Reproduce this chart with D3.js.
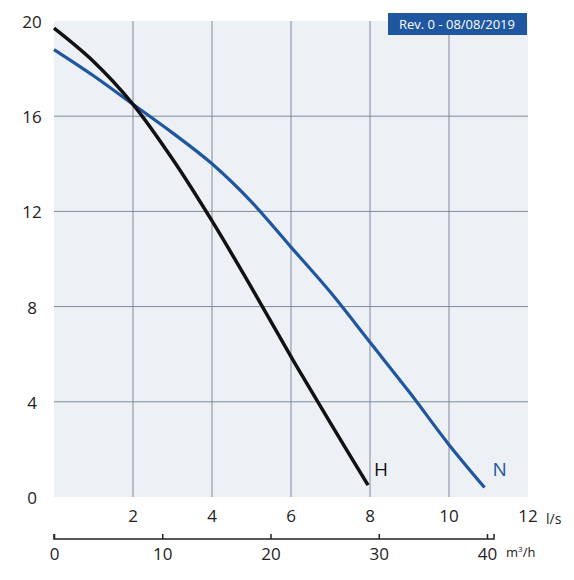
<!DOCTYPE html>
<html><head><meta charset="utf-8">
<script src="https://cdn.jsdelivr.net/npm/d3@7"></script>
<style>body{margin:0;background:#fff}text{font-family:"Open Sans",sans-serif}</style>
</head><body><div id="viz"></div>
<script>
const xTicks = [2, 4, 6, 8, 10, 12];
const yTicks = [0, 4, 8, 12, 16, 20];
const m3Ticks = [0, 10, 20, 30, 40];
const hFlow = [0, 1, 2, 3, 4, 5, 6, 7, 7.95];
const hHead = [19.7, 18.3, 16.5, 14.2, 11.6, 8.8, 5.9, 3.1, 0.5];
const nFlow = [0, 1, 2, 3, 4, 5, 6, 7, 8, 9, 10, 10.9];
const nHead = [18.8, 17.7, 16.5, 15.3, 14.0, 12.4, 10.5, 8.6, 6.5, 4.4, 2.2, 0.4];

const svg = d3.select('#viz').append('svg').attr('width', 574).attr('height', 580);
const x = d3.scaleLinear().domain([0, 12]).range([54, 528]);
const y = d3.scaleLinear().domain([0, 20]).range([497, 21]);
const xm = d3.scaleLinear().domain([0, 40]).range([54, 487]);

svg.append('rect').attr('x', x(0)).attr('y', y(20)).attr('width', x(12) - x(0)).attr('height', y(0) - y(20)).attr('fill', '#edf1f6');

svg.selectAll('.vg').data(xTicks.slice(0, -1)).join('line')
    .attr('x1', d => x(d)).attr('x2', d => x(d)).attr('y1', y(20)).attr('y2', y(0))
    .attr('stroke', '#7c8a9c').attr('stroke-width', 1);
svg.selectAll('.hg').data(yTicks.slice(1, -1)).join('line')
    .attr('x1', x(0)).attr('x2', x(12)).attr('y1', d => y(d)).attr('y2', d => y(d))
    .attr('stroke', '#7c8a9c').attr('stroke-width', 1);

svg.selectAll('.yl').data(yTicks).join('text')
    .attr('x', 32).attr('y', d => y(d) + 7).attr('text-anchor', 'middle')
    .attr('font-size', 17).attr('fill', '#222').text(d => d);
svg.selectAll('.xl').data(xTicks).join('text')
    .attr('x', d => x(d)).attr('y', 522).attr('text-anchor', 'middle')
    .attr('font-size', 17).attr('fill', '#222').text(d => d);
svg.append('text').attr('x', 546).attr('y', 524).attr('font-size', 14).attr('fill', '#222').text('l/s');

const m3 = svg.append('g').attr('transform', 'translate(0,539)');
m3.call(d3.axisBottom(xm).tickValues(m3Ticks).tickSize(-5).tickPadding(6));
m3.select('.domain').attr('stroke', '#222').attr('stroke-width', 1.5).attr('d', `M${xm(0)},-5V0H${494}V-5`);
m3.selectAll('.tick line').attr('stroke', '#222').attr('stroke-width', 1.5);
m3.selectAll('.tick text').attr('font-size', 17).attr('fill', '#222').attr('dy', '0.9em').attr('font-family', '"Open Sans",sans-serif');
svg.append('text').attr('x', 506).attr('y', 557).attr('font-size', 13).attr('fill', '#222')
    .html('m<tspan dy="-5" font-size="8">3</tspan><tspan dy="5">/h</tspan>');

const line = d3.line().x(d => x(d[0])).y(d => y(d[1])).curve(d3.curveCatmullRom);
svg.append('path').datum(d3.zip(nFlow, nHead)).attr('d', line)
    .attr('fill', 'none').attr('stroke', '#1f56a0').attr('stroke-width', 3.2);
svg.append('path').datum(d3.zip(hFlow, hHead)).attr('d', line)
    .attr('fill', 'none').attr('stroke', '#111').attr('stroke-width', 3.5);

svg.append('text').attr('x', x(8) + 4).attr('y', 476).attr('font-size', 19).attr('fill', '#111').text('H');
svg.append('text').attr('x', x(11.1)).attr('y', 476).attr('font-size', 19).attr('fill', '#1f56a0').text('N');

svg.append('rect').attr('x', 388).attr('y', 13).attr('width', 139).attr('height', 22).attr('fill', '#1f56a0');
svg.append('text').attr('x', 457).attr('y', 29).attr('text-anchor', 'middle').attr('font-size', 13)
    .attr('fill', '#fff').text('Rev. 0 - 08/08/2019');
</script></body></html>
